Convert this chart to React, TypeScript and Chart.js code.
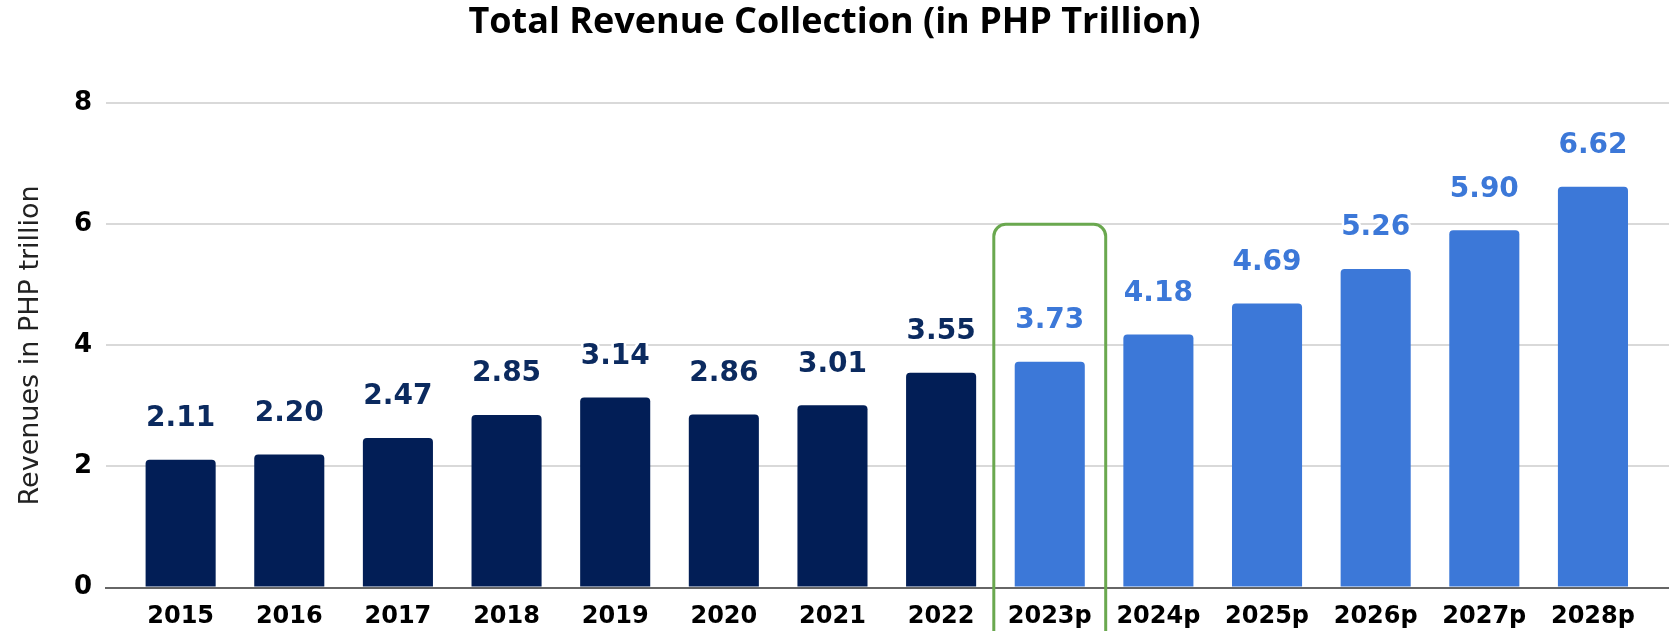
import React, { useEffect, useRef } from 'react';
import { Chart, registerables } from 'chart.js';

Chart.register(...registerables);

// ---- Data ----
const categories = ['2015', '2016', '2017', '2018', '2019', '2020', '2021', '2022', '2023p', '2024p', '2025p', '2026p', '2027p', '2028p'];
const revenues = [2.11, 2.2, 2.47, 2.85, 3.14, 2.86, 3.01, 3.55, 3.73, 4.18, 4.69, 5.26, 5.9, 6.62];
const valueLabels = ['2.11', '2.20', '2.47', '2.85', '3.14', '2.86', '3.01', '3.55', '3.73', '4.18', '4.69', '5.26', '5.90', '6.62'];
const isProjection = [false, false, false, false, false, false, false, false, true, true, true, true, true, true];
const yTickValues = [0, 2, 4, 6, 8];
const highlightCategory = '2023p';
const highlightTopValue = 6;

const chartTitle = 'Total Revenue Collection (in PHP Trillion)';
const yAxisTitle = 'Revenues in PHP trillion';

// ---- Styles ----
const NAVY = '#021e56';
const NAVY_TEXT = '#0b2a5f';
const BLUE = '#3c78d8';
const GREEN = '#6aa84f';
const VERDANA = '"DejaVu Sans", Verdana, sans-serif';

const valueLabelPlugin = {
  id: 'valueLabels',
  afterDatasetsDraw(chart: any) {
    const meta = chart.getDatasetMeta(0);
    const ctx = chart.ctx as CanvasRenderingContext2D;
    ctx.save();
    ctx.font = `bold 28px ${VERDANA}`;
    ctx.textAlign = 'center';
    ctx.textBaseline = 'middle';
    ctx.lineJoin = 'round';
    meta.data.forEach((el: any, i: number) => {
      const x = el.x;
      const y = el.y - 41;
      ctx.lineWidth = 5;
      ctx.strokeStyle = '#ffffff';
      ctx.strokeText(valueLabels[i], x, y);
      ctx.fillStyle = isProjection[i] ? BLUE : NAVY_TEXT;
      ctx.fillText(valueLabels[i], x, y);
    });
    ctx.restore();
  },
};

const highlightPlugin = {
  id: 'highlightBox',
  afterDraw(chart: any) {
    const idx = categories.indexOf(highlightCategory);
    if (idx < 0) return;
    const xs = chart.scales.x;
    const ys = chart.scales.y;
    const left = xs.getPixelForValue(idx - 0.515);
    const right = xs.getPixelForValue(idx + 0.515);
    const top = ys.getPixelForValue(highlightTopValue);
    const bottom = chart.height + 20;
    const ctx = chart.ctx as CanvasRenderingContext2D;
    ctx.save();
    ctx.strokeStyle = GREEN;
    ctx.lineWidth = 3;
    ctx.beginPath();
    (ctx as any).roundRect(left, top, right - left, bottom - top, 12);
    ctx.stroke();
    ctx.restore();
  },
};

export default function App() {
  const ref = useRef<HTMLCanvasElement>(null);

  useEffect(() => {
    document.body.style.margin = '0';
    const canvas = ref.current;
    if (!canvas) return;
    const chart = new Chart(canvas, {
      type: 'bar',
      data: {
        datasets: [
          {
            data: revenues.map((v, i) => ({ x: i, y: v })),
            backgroundColor: isProjection.map((p) => (p ? BLUE : NAVY)),
            borderRadius: 4,
            borderSkipped: 'start',
            categoryPercentage: 1,
            barPercentage: 0.645,
          } as any,
        ],
      },
      options: {
        animation: false,
        responsive: false,
        devicePixelRatio: 1,
        layout: { padding: { top: 0, left: 0, right: 0, bottom: 0 } },
        plugins: {
          legend: { display: false },
          tooltip: { enabled: false },
          title: {
            display: true,
            text: chartTitle,
            color: '#000000',
            font: { family: '"Open Sans", sans-serif', size: 36, weight: 'bold' },
            padding: { top: 1, bottom: 59 },
          },
        },
        scales: {
          x: {
            type: 'linear',
            min: -0.687,
            max: 13.7,
            offset: false,
            afterBuildTicks: (s: any) => {
              s.ticks = categories.map((_, i) => ({ value: i }));
            },
            afterFit: (s: any) => {
              s.height = 43.4;
            },
            ticks: {
              autoSkip: false,
              maxRotation: 0,
              minRotation: 0,
              color: '#000000',
              padding: 15,
              font: { family: VERDANA, size: 24, weight: 'bold' },
              callback: (v: any) => categories[Math.round(Number(v))] ?? '',
            },
            grid: { display: false, drawTicks: false },
            border: { display: true, color: '#666666', width: 2 },
          },
          y: {
            min: 0,
            max: 8,
            afterBuildTicks: (s: any) => {
              s.ticks = yTickValues.map((v) => ({ value: v }));
            },
            afterFit: (s: any) => {
              s.width = 106;
            },
            ticks: {
              color: '#000000',
              padding: 14,
              font: { family: VERDANA, size: 26, weight: 'bold' },
            },
            grid: { color: '#d9d9d9', lineWidth: 2, drawTicks: false },
            border: { display: false },
            title: {
              display: true,
              text: yAxisTitle,
              color: '#222222',
              font: { family: VERDANA, size: 27, weight: 'normal' },
              padding: { top: 15, bottom: 0 },
            },
          },
        },
      } as any,
      plugins: [valueLabelPlugin, highlightPlugin],
    });
    return () => chart.destroy();
  }, []);

  return (
    <div style={{ width: 1669, height: 631 }}>
      <canvas ref={ref} width={1669} height={631} style={{ display: 'block' }} />
    </div>
  );
}
